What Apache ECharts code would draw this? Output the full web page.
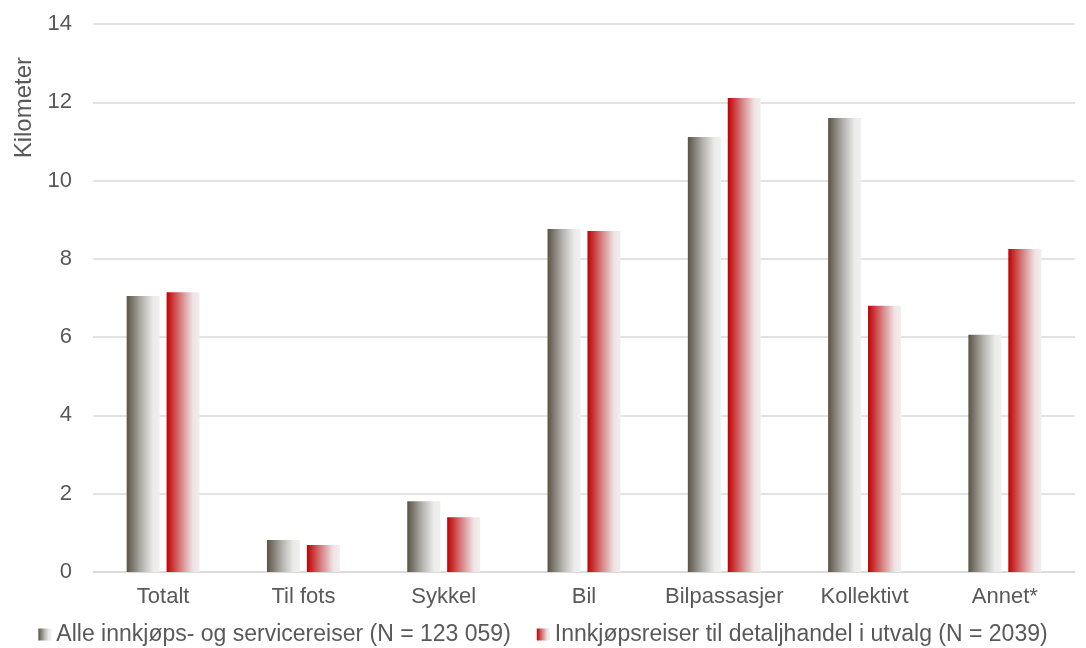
<!DOCTYPE html>
<html><head><meta charset="utf-8">
<script src="https://cdn.jsdelivr.net/npm/echarts@6/dist/echarts.min.js"></script>
<style>html,body{margin:0;padding:0;background:#fff}#c{width:1086px;height:648px}</style>
</head><body><div id="c"></div>
<script>
var categories = ['Totalt', 'Til fots', 'Sykkel', 'Bil', 'Bilpassasjer', 'Kollektivt', 'Annet*'];
var seriesNames = ['Alle innkjøps- og servicereiser (N = 123 059)', 'Innkjøpsreiser til detaljhandel i utvalg (N = 2039)'];
var alleValues = [7.05, 0.82, 1.81, 8.76, 11.11, 11.6, 6.06];
var detaljValues = [7.15, 0.69, 1.4, 8.71, 12.11, 6.8, 8.25];
var yTicks = [0, 2, 4, 6, 8, 10, 12, 14];

var FONT = '"Liberation Sans", Arial, sans-serif';
var greyGrad = new echarts.graphic.LinearGradient(0, 0, 1, 0, [
  {offset: 0, color: '#595345'}, {offset: 0.45, color: '#b3b1ac'}, {offset: 0.8, color: '#ebebea'}, {offset: 1, color: '#f0f0f0'}
]);
var redGrad = new echarts.graphic.LinearGradient(0, 0, 1, 0, [
  {offset: 0, color: '#c00000'}, {offset: 0.45, color: '#d88587'}, {offset: 0.8, color: '#efe3e4'}, {offset: 1, color: '#f2eeee'}
]);

var chart = echarts.init(document.getElementById('c'));
chart.setOption({
  animation: false,
  textStyle: {fontFamily: FONT},
  grid: {left: 93, right: 11, top: 24, bottom: 76, containLabel: false},
  legend: {
    top: 618, left: 'center', itemWidth: 13, itemHeight: 12, itemGap: 26,
    textStyle: {fontSize: 23, color: '#595959', fontFamily: FONT},
    data: seriesNames.map(function (n, i) { return {name: n, icon: 'rect', itemStyle: {color: i === 0 ? greyGrad : redGrad}}; })
  },
  xAxis: {
    type: 'category', data: categories,
    axisLine: {lineStyle: {color: '#d9d9d9', width: 1.5}},
    axisTick: {show: false},
    axisLabel: {fontSize: 22, color: '#595959', margin: 14, fontFamily: FONT, interval: 0, hideOverlap: false}
  },
  yAxis: {
    type: 'value', min: 0, max: 14, interval: 2,
    axisLine: {show: false}, axisTick: {show: false},
    axisLabel: {fontSize: 22, color: '#595959', margin: 21, fontFamily: FONT,
      formatter: function (v) { return yTicks.indexOf(v) >= 0 ? String(v) : ''; }},
    splitLine: {lineStyle: {color: '#d9d9d9', width: 1.5}}
  },
  graphic: [{
    type: 'text', left: 12, top: 57, rotation: Math.PI / 2,
    style: {text: 'Kilometer', fill: '#595959', font: '24px "Liberation Sans", Arial, sans-serif'}
  }],
  series: [
    {name: seriesNames[0], type: 'bar', data: alleValues, barWidth: 33, barGap: '21%', itemStyle: {color: greyGrad}},
    {name: seriesNames[1], type: 'bar', data: detaljValues, barWidth: 33, barGap: '21%', itemStyle: {color: redGrad}}
  ]
});
</script></body></html>
